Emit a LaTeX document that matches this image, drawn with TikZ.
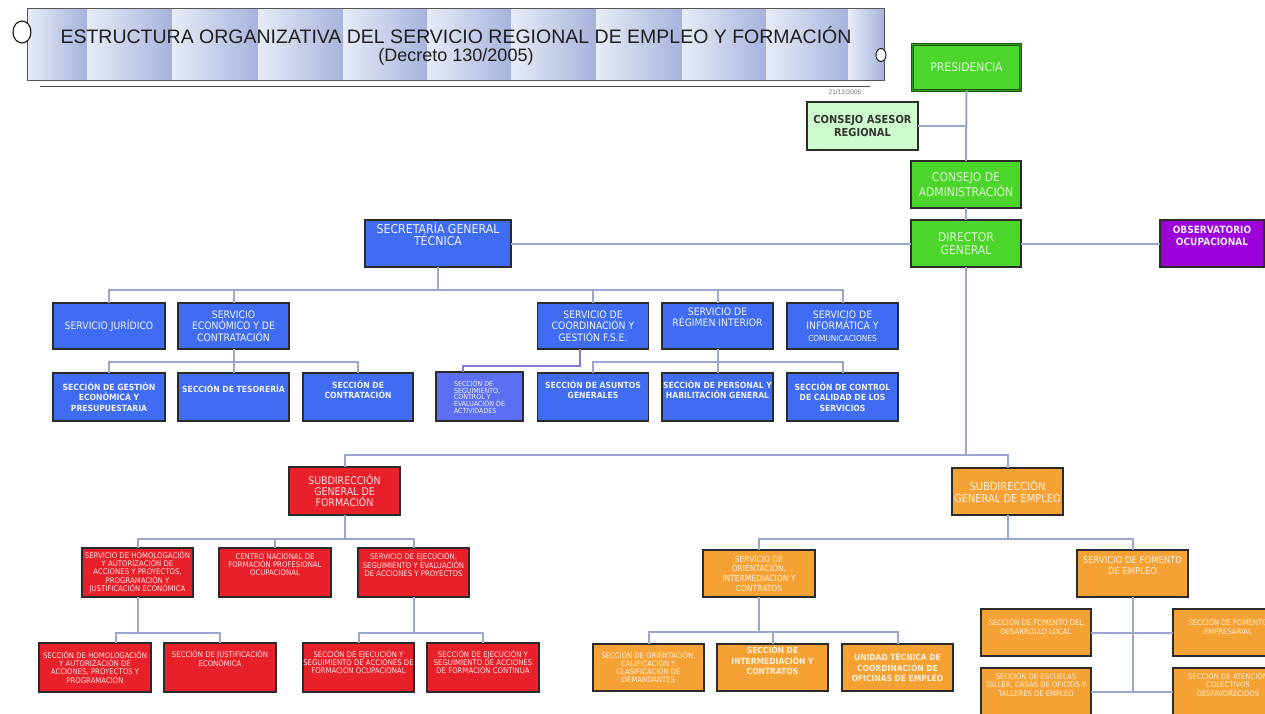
\documentclass[tikz,border=0pt]{standalone}
\usepackage{fontspec}
\setmainfont{DejaVu Sans}[FakeStretch=0.9]
\newfontfamily\titlefont{Liberation Sans}
\usetikzlibrary{calc}
\definecolor{grn}{HTML}{4CD62B}
\definecolor{grntxt}{HTML}{DDF8D2}
\definecolor{dkgrn}{HTML}{1E5A12}
\definecolor{ltgrn}{HTML}{CFFCCF}
\definecolor{blu}{HTML}{3F6CF2}
\definecolor{blu2}{HTML}{5C6FF2}
\definecolor{blutxt}{HTML}{F0F2FF}
\definecolor{red1}{HTML}{E8202A}
\definecolor{redtxt}{HTML}{FFE2E2}
\definecolor{ora}{HTML}{F6A133}
\definecolor{oratxt}{HTML}{FFF1DE}
\definecolor{pur}{HTML}{9E00DA}
\definecolor{bordc}{HTML}{2B2B2B}
\definecolor{connc}{HTML}{9CA7CF}
\definecolor{connp}{HTML}{8878D8}
\definecolor{bandL}{HTML}{E8ECF7}
\definecolor{bandD}{HTML}{A6B3DC}
\tikzset{
  box/.style={draw=bordc, line width=1.1pt, align=center, inner xsep=0pt, inner ysep=1pt, outer sep=0pt},
  wh/.style 2 args={minimum width=#1pt, minimum height=#2pt},
  gbox/.style={box, fill=grn, text=grntxt, font=\fontsize{12}{13}\selectfont},
  lgbox/.style={box, fill=ltgrn, text=black!80, font=\bfseries\fontsize{11}{13}\selectfont},
  pbox/.style={box, fill=pur, text=blutxt, font=\bfseries\fontsize{10}{11.5}\selectfont},
  bbox/.style={box, fill=blu, text=blutxt, font=\fontsize{10.3}{11.5}\selectfont},
  bsbox/.style={box, fill=blu, text=blutxt, font=\bfseries\fontsize{8.5}{10.5}\selectfont},
  btbox/.style={box, fill=blu2, text=blutxt, align=left, font=\fontsize{7}{6.7}\selectfont},
  rbox/.style={box, fill=red1, text=redtxt, font=\fontsize{10.5}{11}\selectfont},
  rsbox/.style={box, fill=red1, text=redtxt, font=\fontsize{7.7}{8}\selectfont},
  obox/.style={box, fill=ora, text=oratxt, font=\fontsize{11}{11.5}\selectfont},
  ombox/.style={box, fill=ora, text=oratxt, font=\fontsize{8.4}{9.7}\selectfont},
  obbox/.style={box, fill=ora, text=oratxt, font=\bfseries\fontsize{8.4}{10.5}\selectfont},
  osbox/.style={box, fill=ora, text=oratxt, font=\fontsize{7.6}{8}\selectfont},
  conn/.style={draw=connc, line width=2pt},
}
\begin{document}
\begin{tikzpicture}[x=1pt,y=-1pt]
\useasboundingbox (0,0) rectangle (1265,713);
\fill[white] (0,0) rectangle (1265,713);

% ---- title banner ----
\foreach \a/\b in {27/87,87/172,172/258,258/343,343/427,427/511,511/596,596/682,682/766,766/848,848/884}
  \shade[left color=bandL, right color=bandD] (\a,8) rectangle (\b,80);
\draw[bordc!80, line width=1pt] (27,8) rectangle (884,80);
\draw[black, line width=1pt, fill=white] (22,32) ellipse [x radius=9, y radius=11];
\draw[black, line width=0.9pt, fill=white] (881,55) ellipse [x radius=5, y radius=6.5];
\node[font=\titlefont\fontsize{19.5}{22}\selectfont, text=black!88, inner sep=0pt] (title) at (456,35)
  {ESTRUCTURA ORGANIZATIVA DEL SERVICIO REGIONAL DE EMPLEO Y FORMACIÓN};
\node[font=\titlefont\fontsize{18}{20}\selectfont, text=black!88, inner sep=0pt] (subtitle) at (456,57)
  {(Decreto 130/2005)};
\draw[black!70, line width=1pt] (40,86) -- (870,86);
\node[font=\titlefont\fontsize{6.5}{7}\selectfont, text=black!55, inner sep=0pt] (date) at (845,92) {21/12/2005};

% ---- bus levels ----
\coordinate (yA) at (0,290);
\coordinate (yB) at (0,362);
\coordinate (yD) at (0,455);
\coordinate (yE) at (0,539);
\coordinate (yF) at (0,633);
\coordinate (yG) at (0,632);

% ---- top (green) ----
\node[gbox, wh={108}{46}, draw=dkgrn, double=grn!70!black, double distance=1.4pt, line width=0.9pt] (pres) at (966.5,67.5) {PRESIDENCIA};
\node[lgbox, wh={111}{48}] (asesor) at (862.5,126) {CONSEJO ASESOR\\REGIONAL};
\node[gbox, wh={110}{47}] (cadm) at (966,184.5) {CONSEJO DE\\ADMINISTRACIÓN};
\node[gbox, wh={110}{47}] (dg) at (966,243.5) {DIRECTOR\\GENERAL};
\node[pbox, wh={104}{47}] (obs) at (1212,243.5) {OBSERVATORIO\\OCUPACIONAL\\[4pt]};

% ---- blue ----
\node[bbox, wh={146}{47}, font=\fontsize{12.2}{12}\selectfont] (sgt) at (438,243.5) {SECRETARÍA GENERAL\\TÉCNICA\\[7pt]};
\node[bbox, wh={112}{46}] (jur) at (109,326) {SERVICIO JURÍDICO};
\node[bbox, wh={111}{46}] (eco) at (233.5,326) {SERVICIO\\ECONÓMICO Y DE\\CONTRATACIÓN};
\node[bbox, wh={111}{46}] (fse) at (593,326) {SERVICIO DE\\COORDINACIÓN Y\\GESTIÓN F.S.E.};
\node[bbox, wh={111}{46}] (reg) at (717.5,326) {SERVICIO DE\\RÉGIMEN INTERIOR\\[6pt]};
\node[bbox, wh={111}{46}] (inf) at (842.5,326) {SERVICIO DE\\INFORMÁTICA Y\\{\fontsize{8.2}{10}\selectfont COMUNICACIONES}};

\node[bsbox, wh={112}{48}] (gest) at (109,397) {SECCIÓN DE GESTIÓN\\ECONÓMICA Y\\PRESUPUESTARIA};
\node[bsbox, wh={111}{48}] (teso) at (233.5,397) {SECCIÓN DE TESORERÍA\\[6pt]};
\node[bsbox, wh={110}{48}] (contr) at (358,397) {SECCIÓN DE\\CONTRATACIÓN\\[4pt]};
\node[btbox, wh={87}{49}] (seg) at (479.5,396.5) {SECCIÓN DE\\SEGUIMIENTO,\\CONTROL Y\\EVALUACIÓN DE\\ACTIVIDADES};
\node[bsbox, wh={111}{48}] (asun) at (593,397) {SECCIÓN DE ASUNTOS\\GENERALES\\[4pt]};
\node[bsbox, wh={111}{48}] (pers) at (717.5,397) {SECCIÓN DE PERSONAL Y\\HABILITACIÓN GENERAL\\[4pt]};
\node[bsbox, wh={111}{48}] (cal) at (842.5,397) {SECCIÓN DE CONTROL\\DE CALIDAD DE LOS\\SERVICIOS};

% ---- red ----
\node[rbox, wh={111}{48}] (sgf) at (344.5,491) {SUBDIRECCIÓN\\GENERAL DE\\FORMACIÓN};
\node[rsbox, wh={111}{49}] (hom) at (137.5,572.5) {SERVICIO DE HOMOLOGACIÓN\\Y AUTORIZACIÓN DE\\ACCIONES Y PROYECTOS,\\PROGRAMACIÓN Y\\JUSTIFICACIÓN ECONÓMICA};
\node[rsbox, wh={112}{49}] (cen) at (275,572.5) {CENTRO NACIONAL DE\\FORMACIÓN PROFESIONAL\\OCUPACIONAL\\[8pt]};
\node[rsbox, wh={111}{49}] (eje) at (413.5,572.5) {SERVICIO DE EJECUCIÓN,\\SEGUIMIENTO Y EVALUACIÓN\\DE ACCIONES Y PROYECTOS\\[8pt]};
\node[rsbox, wh={112}{49}] (shom) at (95,667.5) {SECCIÓN DE HOMOLOGACIÓN\\Y AUTORIZACIÓN DE\\ACCIONES, PROYECTOS Y\\PROGRAMACIÓN};
\node[rsbox, wh={112}{49}] (sjus) at (220,667.5) {SECCIÓN DE JUSTIFICACIÓN\\ECONÓMICA\\[10pt]};
\node[rsbox, wh={111}{49}] (seo) at (358.5,667.5) {SECCIÓN DE EJECUCIÓN Y\\SEGUIMIENTO DE ACCIONES DE\\FORMACIÓN OCUPACIONAL\\[4pt]};
\node[rsbox, wh={112}{49}] (sec) at (483,667.5) {SECCIÓN DE EJECUCIÓN Y\\SEGUIMIENTO DE ACCIONES\\DE FORMACIÓN CONTINUA\\[4pt]};

% ---- orange ----
\node[obox, wh={111}{47}] (sge) at (1007.5,491.5) {SUBDIRECCIÓN\\GENERAL DE EMPLEO};
\node[ombox, wh={112}{47}] (ori) at (759,573.5) {SERVICIO DE\\ORIENTACIÓN,\\INTERMEDIACIÓN Y\\CONTRATOS};
\node[ombox, wh={111}{47}, font=\fontsize{9.4}{10.5}\selectfont] (fom) at (1132.5,573.5) {SERVICIO DE FOMENTO\\DE EMPLEO\\[6pt]};
\node[osbox, wh={111}{47}] (so1) at (648.5,667.5) {SECCIÓN DE ORIENTACIÓN,\\CALIFICACIÓN Y\\CLASIFICACIÓN DE\\DEMANDANTES};
\node[obbox, wh={111}{47}] (so2) at (772.5,667.5) {SECCIÓN DE\\INTERMEDIACIÓN Y\\CONTRATOS\\[4pt]};
\node[obbox, wh={111}{47}] (so3) at (897.5,667.5) {UNIDAD TÉCNICA DE\\COORDINACIÓN DE\\OFICINAS DE EMPLEO};
\node[osbox, wh={110}{47}, font=\fontsize{7.6}{8.6}\selectfont] (dl) at (1036,632.5) {SECCIÓN DE FOMENTO DEL\\DESARROLLO LOCAL\\[4pt]};
\node[osbox, wh={110}{47}, font=\fontsize{7.6}{8.6}\selectfont] (emp) at (1228,632.5) {SECCIÓN DE FOMENTO\\EMPRESARIAL\\[4pt]};
\node[osbox, wh={110}{47}, font=\fontsize{7.6}{8.6}\selectfont] (esc) at (1036,691.5) {SECCIÓN DE ESCUELAS\\TALLER, CASAS DE OFICIOS Y\\TALLERES DE EMPLEO\\[6pt]};
\node[osbox, wh={110}{47}, font=\fontsize{7.6}{8.6}\selectfont] (atn) at (1228,691.5) {SECCIÓN DE ATENCIÓN\\COLECTIVOS\\DESFAVORECIDOS\\[6pt]};

% ---- connectors ----
\draw[conn] (pres.south) -- (cadm.north);
\draw[conn] (asesor.east) -- (asesor.east -| pres.south);
\draw[conn] (cadm.south) -- (dg.north);
\draw[conn] (dg.east) -- (obs.west);
\draw[conn] (dg.west) -- (sgt.east);

\draw[conn] (sgt.south) -- (sgt.south |- yA);
\draw[conn] (jur.north) -- (jur.north |- yA) -- (inf.north |- yA) -- (inf.north);
\foreach \n in {eco,fse,reg} \draw[conn] (\n.north) -- (\n.north |- yA);

\draw[conn] (eco.south) -- (eco.south |- yB);
\draw[conn] (gest.north) -- (gest.north |- yB) -- (contr.north |- yB) -- (contr.north);
\draw[conn] (teso.north) -- (teso.north |- yB);

\draw[conn, draw=connp] ([xshift=-13pt]fse.south) -- ++(0,17) -| ([xshift=-16.5pt]seg.north);

\draw[conn] (reg.south) -- (reg.south |- yB);
\draw[conn] (asun.north) -- (asun.north |- yB) -- (cal.north |- yB) -- (cal.north);
\draw[conn] (pers.north) -- (pers.north |- yB);

\draw[conn] (dg.south) -- (dg.south |- yD);
\draw[conn] (sgf.north) -- (sgf.north |- yD) -- (sge.north |- yD) -- (sge.north);

\draw[conn] (sgf.south) -- (sgf.south |- yE);
\draw[conn] (hom.north) -- (hom.north |- yE) -- (eje.north |- yE) -- (eje.north);
\draw[conn] (cen.north) -- (cen.north |- yE);

\draw[conn] (hom.south) -- (hom.south |- yF);
\draw[conn] ([xshift=21pt]shom.north) -- ([xshift=21pt]shom.north |- yF) -- (sjus.north |- yF) -- (sjus.north);
\draw[conn] (eje.south) -- (eje.south |- yF);
\draw[conn] (seo.north) -- (seo.north |- yF) -- (sec.north |- yF) -- (sec.north);

\draw[conn] (sge.south) -- (sge.south |- yE);
\draw[conn] (ori.north) -- (ori.north |- yE) -- (fom.north |- yE) -- (fom.north);

\draw[conn] (ori.south) -- (ori.south |- yG);
\draw[conn] (so1.north) -- (so1.north |- yG) -- (so3.north |- yG) -- (so3.north);
\draw[conn] (so2.north) -- (so2.north |- yG);

\draw[conn] (fom.south) -- (fom.south |- esc.east);
\draw[conn] (dl.east) -- (emp.west);
\draw[conn] (esc.east) -- (atn.west);
\end{tikzpicture}
\end{document}
